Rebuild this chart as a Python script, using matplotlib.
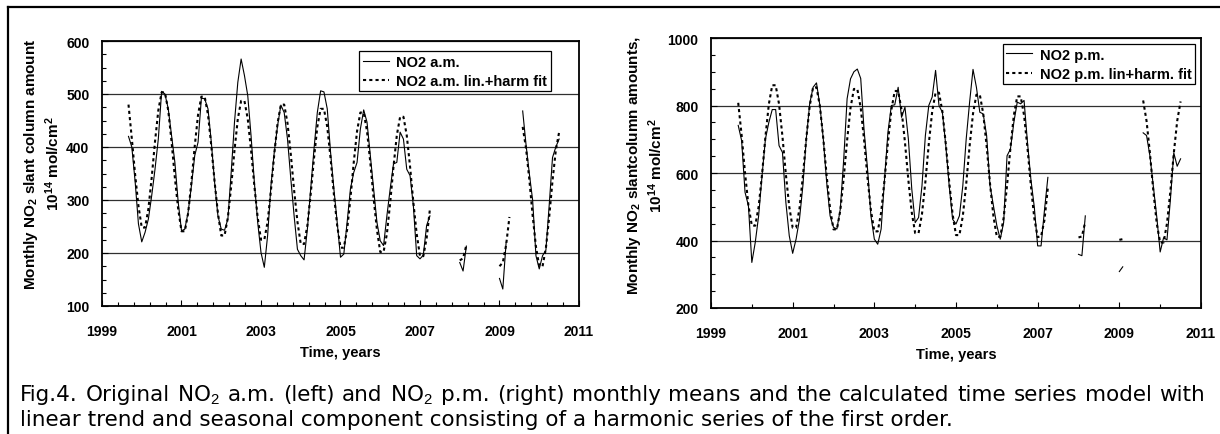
import numpy as np
import matplotlib.pyplot as plt
from matplotlib.ticker import MultipleLocator
from matplotlib.lines import Line2D

plt.rcParams['font.family'] = ['Liberation Sans', 'DejaVu Sans']
plt.rcParams['mathtext.fontset'] = 'custom'
plt.rcParams['mathtext.rm'] = 'Liberation Sans'
plt.rcParams['mathtext.bf'] = 'Liberation Sans:bold'
plt.rcParams['mathtext.it'] = 'Liberation Sans:italic'

# monthly means, Sep 1999 .. Jul 2010 (None = no data)
start_year, start_month, n_months = 1999, 9, 131
N = None

am_obs = [
    420, 400, 335, 255,                                            # 1999
    221, 239, 264, 308, 358, 415, 505, 500, 472, 421, 371, 296,   # 2000
    242, 245, 277, 327, 384, 409, 492, 491, 472, 409, 333, 270,   # 2001
    245, 243, 264, 352, 447, 522, 566, 535, 497, 421, 333, 258,   # 2002
    201, 173, 233, 327, 390, 440, 479, 465, 415, 340, 270, 207,   # 2003
    195, 187, 245, 321, 396, 465, 506, 504, 472, 390, 321, 258,   # 2004
    192, 198, 258, 321, 352, 371, 434, 470, 447, 384, 321, 258,   # 2005
    223, 214, 270, 321, 368, 371, 428, 415, 358, 346, 289, 195,   # 2006
    189, 196, 252, 270, N, N, N, N, N, N, N, N,                   # 2007
    182, 166, 213, N, N, N, N, N, N, N, N, N,                     # 2008
    152, 132, 220, N, N, N, N, 468, 405, 350, 300, 195,           # 2009
    170, 195, 205, 290, 380, 400, 415,                            # 2010
]
am_fit = [
    480, 416, 348, 289,
    248, 248, 283, 342, 410, 469, 503, 503, 469, 410, 342, 283,
    241, 241, 275, 334, 402, 461, 495, 495, 461, 402, 334, 275,
    233, 233, 267, 326, 394, 453, 487, 487, 453, 394, 326, 267,
    225, 225, 259, 318, 386, 445, 480, 480, 445, 386, 318, 259,
    217, 217, 252, 311, 379, 438, 472, 472, 438, 379, 311, 252,
    210, 210, 244, 303, 371, 430, 465, 465, 430, 371, 303, 244,
    202, 202, 236, 295, 363, 422, 457, 457, 422, 363, 295, 236,
    194, 194, 228, 283, N, N, N, N, N, N, N, N,
    186, 190, 215, N, N, N, N, N, N, N, N, N,
    175, 182, 215, 268, N, N, N, 438, 398, 339, 271, 212,
    175, 175, 209, 268, 336, 394, 428,
]
pm_obs = [
    741, 696, 543, 503,
    335, 394, 473, 592, 701, 750, 788, 788, 681, 661, 513, 414,
    362, 404, 463, 562, 701, 805, 854, 867, 800, 701, 572, 473,
    439, 434, 493, 640, 820, 879, 900, 908, 880, 725, 612, 473,
    404, 389, 434, 582, 721, 800, 802, 854, 765, 795, 701, 553,
    453, 468, 562, 711, 800, 825, 904, 800, 780, 681, 562, 463,
    449, 473, 562, 701, 810, 907, 854, 780, 775, 711, 562, 503,
    444, 404, 453, 651, 671, 750, 810, 805, 815, 691, 582, 500,
    384, 384, 490, 587, N, N, N, N, N, N, N, N,
    359, 355, 473, N, N, N, N, N, N, N, N, N,
    308, 322, N, N, N, N, N, 719, 711, 650, 560, 470,
    366, 408, 402, 520, 660, 620, 642,
]
pm_fit = [
    808, 712, 600, 504,
    444, 444, 500, 596, 708, 804, 860, 860, 804, 708, 596, 500,
    438, 438, 494, 590, 702, 798, 854, 854, 798, 702, 590, 494,
    433, 433, 489, 585, 697, 793, 849, 849, 793, 697, 585, 489,
    427, 427, 483, 579, 691, 787, 843, 843, 787, 691, 579, 483,
    422, 422, 478, 574, 686, 782, 838, 838, 782, 686, 574, 478,
    416, 416, 472, 568, 680, 776, 832, 832, 776, 680, 568, 472,
    411, 411, 467, 563, 675, 771, 827, 827, 771, 675, 563, 467,
    410, 412, 461, 557, N, N, N, N, N, N, N, N,
    409, 412, 456, N, N, N, N, N, N, N, N, N,
    402, 404, N, N, N, N, N, 815, 754, 658, 546, 450,
    394, 394, 450, 546, 658, 754, 812,
]

year_ticks = [1999, 2001, 2003, 2005, 2007, 2009, 2011]

caption1 = ("Fig.4. Original NO$_\\mathrm{2}$ a.m. (left) and NO$_\\mathrm{2}$ p.m. (right) "
            "monthly means and the calculated time series model with")
caption2 = ("linear trend and seasonal component consisting of a harmonic "
            "series of the first order.")

W, H = 1220, 435
t = start_year + (start_month - 1 + np.arange(n_months)) / 12.0


def style(ax, ylim, ymaj, ymin, xminor):
    ax.set_xlim(1999, 2011)
    ax.set_ylim(*ylim)
    ax.set_xticks(year_ticks)
    ax.set_xticks(np.arange(1999, 2011.001, xminor), minor=True)
    ax.yaxis.set_major_locator(MultipleLocator(ymaj))
    ax.yaxis.set_minor_locator(MultipleLocator(ymin))
    ax.grid(axis='y', which='major', color='#303030', lw=0.9)
    ax.tick_params(which='both', direction='in', width=0.8)
    ax.tick_params(which='major', length=4)
    ax.tick_params(which='minor', length=3)
    ax.tick_params(axis='x', pad=13, labelsize=10)
    ax.tick_params(axis='y', pad=9, labelsize=10)
    for lab in ax.get_xticklabels() + ax.get_yticklabels():
        lab.set_fontweight('bold')
    for sp in ax.spines.values():
        sp.set_linewidth(1.3)
    ax.set_xlabel('Time, years', fontsize=10.5, fontweight='bold', labelpad=5)


def draw(ax, obs, fit, lab_obs, lab_fit):
    ax.plot(t, np.array(obs, dtype=float), color='black', lw=0.8, label=lab_obs)
    ax.plot(t, np.array(fit, dtype=float), color='black', lw=1.5,
            ls=(0, (1.5, 1.5)), label=lab_fit)


fig = plt.figure(figsize=(W / 100, H / 100), dpi=100)
ax1 = fig.add_axes([102 / W, 1 - 307 / H, 477 / W, 265 / H])
ax2 = fig.add_axes([711 / W, 1 - 309 / H, 490 / W, 270 / H])

draw(ax1, am_obs, am_fit, 'NO2 a.m.', 'NO2 a.m. lin.+harm fit')
draw(ax2, pm_obs, pm_fit, 'NO2 p.m.', 'NO2 p.m. lin+harm. fit')

style(ax1, (100, 600), 100, 25, 0.4)
style(ax2, (200, 1000), 200, 50, 1.0)

ax1.set_ylabel('Monthly NO$_\\mathbf{2}$ slant column amount\n'
               '10$^\\mathbf{14}$ mol/cm$^\\mathbf{2}$',
               fontsize=11, fontweight='bold', linespacing=1.2)
ax1.yaxis.set_label_coords(-0.0835, 0.54)
ax2.set_ylabel('Monthly NO$_\\mathbf{2}$ slantcolumn amounts,\n'
               '10$^\\mathbf{14}$ mol/cm$^\\mathbf{2}$',
               fontsize=11, fontweight='bold', linespacing=1.2)
ax2.yaxis.set_label_coords(-0.094, 0.53)

for ax, anchor in ((ax1, (0.941, 0.962)), (ax2, (0.988, 0.978))):
    leg = ax.legend(loc='upper right', bbox_to_anchor=anchor, borderaxespad=0,
                    fancybox=False, framealpha=1, edgecolor='black',
                    prop={'weight': 'bold', 'size': 10.5}, handlelength=1.8,
                    handletextpad=0.5, borderpad=0.25, labelspacing=0.35)
    leg.get_frame().set_linewidth(0.9)

# outer frame (top and left edges)
fig.add_artist(Line2D([8 / W, 1], [1 - 8 / H, 1 - 8 / H], color='black', lw=1.6))
fig.add_artist(Line2D([8 / W, 8 / W], [0, 1 - 8 / H], color='black', lw=1.6))

# caption, first line spread to the full width
cap_font = dict(fontsize=15.5, family=['DejaVu Sans'], va='baseline')
x_left, x_right = 20, 1205
fig.canvas.draw()
r = fig.canvas.get_renderer()
words = caption1.split(' ')
texts = [fig.text(0, 1 - 401 / H, w, **cap_font) for w in words]
widths = [tx.get_window_extent(r).width for tx in texts]
gap = (x_right - x_left - sum(widths)) / (len(words) - 1)
x = x_left
for tx, w in zip(texts, widths):
    tx.set_x(x / W)
    x += w + gap
fig.text(x_left / W, 1 - 426 / H, caption2, **cap_font)

fig.savefig('out.png', dpi=100)
